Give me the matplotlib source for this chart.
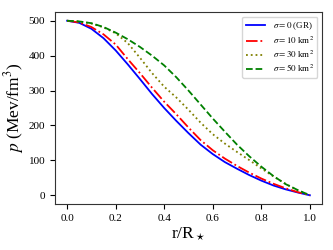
import matplotlib
matplotlib.use('Agg')
import matplotlib.pyplot as plt

plt.rcParams['font.family'] = ['Liberation Serif', 'DejaVu Serif']
plt.rcParams['mathtext.fontset'] = 'stix'

r = [0.0, 0.05, 0.1, 0.15, 0.2, 0.25, 0.3, 0.35, 0.4, 0.45, 0.5,
     0.55, 0.6, 0.65, 0.7, 0.75, 0.8, 0.85, 0.9, 0.95, 1.0]

p_gr = [500, 494, 477, 450, 415, 375, 333, 290, 250, 213, 178,
        145, 118, 95, 76, 58, 42, 28, 17, 8, 0]
p_10 = [500, 495, 482, 461, 432, 390, 350, 308, 268, 232, 194,
        158, 129, 105, 84, 65, 48, 33, 20, 9, 0]
p_30 = [500, 498, 492, 481, 464, 436, 394, 350, 311, 280, 245,
        208, 175, 148, 124, 101, 77, 54, 33, 14, 0]
p_50 = [500, 498, 493, 482, 466, 447, 425, 400, 372, 338, 300,
        260, 220, 182, 145, 112, 82, 55, 32, 15, 0]

labels = [r'$\sigma=0$ (GR)', r'$\sigma=10$ km$^2$',
          r'$\sigma=30$ km$^2$', r'$\sigma=50$ km$^2$']

fig = plt.figure(figsize=(3.33, 2.5), dpi=100)
ax = fig.add_axes([0.165, 0.184, 0.802, 0.768])

ax.plot(r, p_gr, color='b', ls='-', lw=1.3, label=labels[0])
ax.plot(r, p_10, color='r', ls='-.', lw=1.3, label=labels[1])
ax.plot(r, p_30, color='olive', ls=':', lw=1.3, label=labels[2])
ax.plot(r, p_50, color='g', ls='--', lw=1.3, label=labels[3])

ax.set_xlabel(r'r/R$_\star$', fontsize=12.5, labelpad=2)
ax.set_ylabel(r'$p$ (Mev/fm$^3$)', fontsize=12.5, labelpad=2)
ax.tick_params(labelsize=8)
ax.set_xticks([0.0, 0.2, 0.4, 0.6, 0.8, 1.0])
ax.set_yticks([0, 100, 200, 300, 400, 500])
for s in ax.spines.values():
    s.set_color('#333333')

ax.legend(loc='upper right', fontsize=6.5, handlelength=2.2, borderpad=0.4,
          labelspacing=0.3)

fig.savefig('out.png', dpi=100)
